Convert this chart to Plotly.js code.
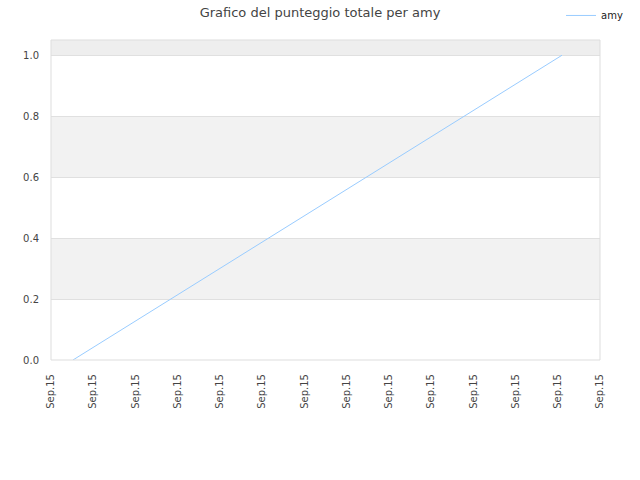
<!DOCTYPE html>
<html>
<head>
<meta charset="utf-8">
<script src="https://cdn.plot.ly/plotly-3.0.1.min.js"></script>
<style>html,body{margin:0;padding:0;background:#fff}#chart{width:640px;height:480px}</style>
</head>
<body>
<div id="chart"></div>
<script>
var seriesName = "amy";
var xValues = [0.52, 12.1];
var yValues = [0, 1];
var tickPositions = [0,1,2,3,4,5,6,7,8,9,10,11,12,13];
var tickLabels = ["Sep.15","Sep.15","Sep.15","Sep.15","Sep.15","Sep.15","Sep.15","Sep.15","Sep.15","Sep.15","Sep.15","Sep.15","Sep.15","Sep.15"];
var bandStarts = [0.2, 0.6];
var bandEnds = [0.4, 0.8];

var shapes = [];
for (var i = 0; i < bandStarts.length; i++) {
  shapes.push({type:'rect', xref:'paper', yref:'y', x0:0, x1:1, y0:bandStarts[i], y1:bandEnds[i], fillcolor:'#f2f2f2', line:{width:0}, layer:'below'});
}
shapes.push({type:'rect', xref:'paper', yref:'y', x0:0, x1:1, y0:1.0, y1:1.05, fillcolor:'#eeeeee', line:{width:0}, layer:'below'});
shapes.push({type:'rect', xref:'paper', yref:'paper', x0:0, x1:1, y0:0, y1:1, fillcolor:'rgba(0,0,0,0)', line:{width:1, color:'#dddddd'}, layer:'above'});

Plotly.newPlot('chart', [{
  x: xValues, y: yValues, type:'scatter', mode:'lines', name: seriesName,
  line:{color:'#99ccff', width:1}
}], {
  width:640, height:480,
  margin:{l:51, r:40, t:40, b:120},
  paper_bgcolor:'#ffffff', plot_bgcolor:'#ffffff',
  font:{family:'DejaVu Sans, sans-serif', size:10, color:'#444'},
  title:{text:'Grafico del punteggio totale per amy', x:0.5, xanchor:'center', y:0.975, yanchor:'middle', font:{size:13, color:'#444'}},
  showlegend:true,
  legend:{x:0.929, xanchor:'left', y:0.998, yanchor:'top', yref:'container', font:{size:10, color:'#222'}, bgcolor:'rgba(0,0,0,0)', itemwidth:30},
  xaxis:{range:[0,13], tickmode:'array', tickvals:tickPositions, ticktext:tickLabels, tickangle:-90, showgrid:false, zeroline:false, showline:false, ticks:'outside', ticklen:9, tickcolor:'rgba(0,0,0,0)', tickfont:{size:10, color:'#444'}, fixedrange:true},
  yaxis:{range:[0,1.05], tickvals:[0,0.2,0.4,0.6,0.8,1.0], ticktext:['0.0','0.2','0.4','0.6','0.8','1.0'], showgrid:true, gridcolor:'#e0e0e0', zeroline:false, showline:false, ticks:'outside', ticklen:9, tickcolor:'rgba(0,0,0,0)', tickfont:{size:10, color:'#444'}},
  shapes: shapes
}, {displayModeBar:false, staticPlot:true});
</script>
</body>
</html>
